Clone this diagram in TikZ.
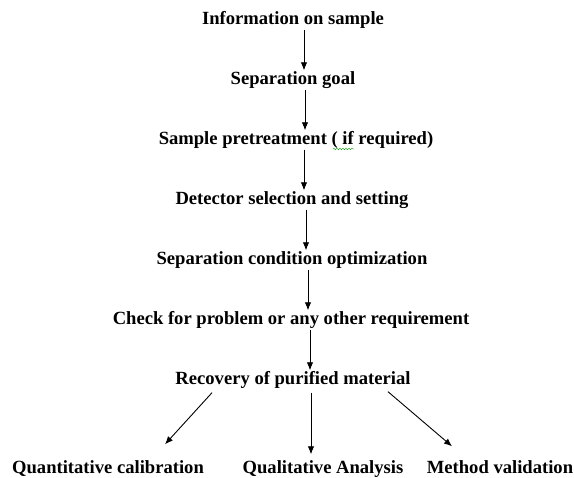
\documentclass[tikz,border=0pt]{standalone}
\usepackage{fontspec}
\setmainfont{Liberation Serif}
\usetikzlibrary{arrows.meta,decorations.pathmorphing}
\begin{document}
\begin{tikzpicture}[x=1pt,y=-1pt,
  every node/.style={font=\fontsize{18.6}{22}\selectfont\bfseries,inner sep=1pt,text height=13pt,text depth=4pt},
  flow/.style={-{Latex[length=8pt,width=6.5pt]},line width=0.9pt}]
  \useasboundingbox (0,0) rectangle (574,478);
  \node (info) at (293,20) {Information on sample};
  \node (goal) at (293,80) {Separation goal};
  \node (pre) at (296,140) {Sample pretreatment ( if required)};
  \node (det) at (292,200) {Detector selection and setting};
  \node (opt) at (292,260) {Separation condition optimization};
  \node (chk) at (291,320) {Check for problem or any other requirement};
  \node (rec) at (293,380) {Recovery of purified material};
  \node (quant) at (108,469) {Quantitative calibration};
  \node (qual) at (323,469) {Qualitative Analysis};
  \node (meth) at (500,469) {Method validation};
  % main chain
  \draw[flow] ([xshift=11pt]info.south) -- ([xshift=11pt]info.south |- goal.north);
  \draw[flow] ([xshift=12pt]goal.south) -- ([xshift=12pt]goal.south |- pre.north);
  \draw[flow] ([xshift=8pt]pre.south) -- ([xshift=8pt]pre.south |- det.north);
  \draw[flow] ([xshift=14pt]det.south) -- ([xshift=14pt]det.south |- opt.north);
  \draw[flow] ([xshift=16pt]opt.south) -- ([xshift=16pt]opt.south |- chk.north);
  \draw[flow] ([xshift=19pt]chk.south) -- ([xshift=19pt]chk.south |- rec.north);
  % branches
  \draw[flow] ([shift={(-81,3)}]rec.south) -- ([shift={(57,-15)}]quant.north);
  \draw[flow] ([shift={(18,3)}]rec.south) -- ([shift={(-12,-5)}]qual.north);
  \draw[flow] ([shift={(95,2)}]rec.south) -- ([shift={(-48,-13)}]meth.north);
  % spell-check mark
  \draw[green!60!black,decorate,decoration={snake,amplitude=0.8pt,segment length=3pt}] (333,149) -- (354,149);
\end{tikzpicture}
\end{document}
